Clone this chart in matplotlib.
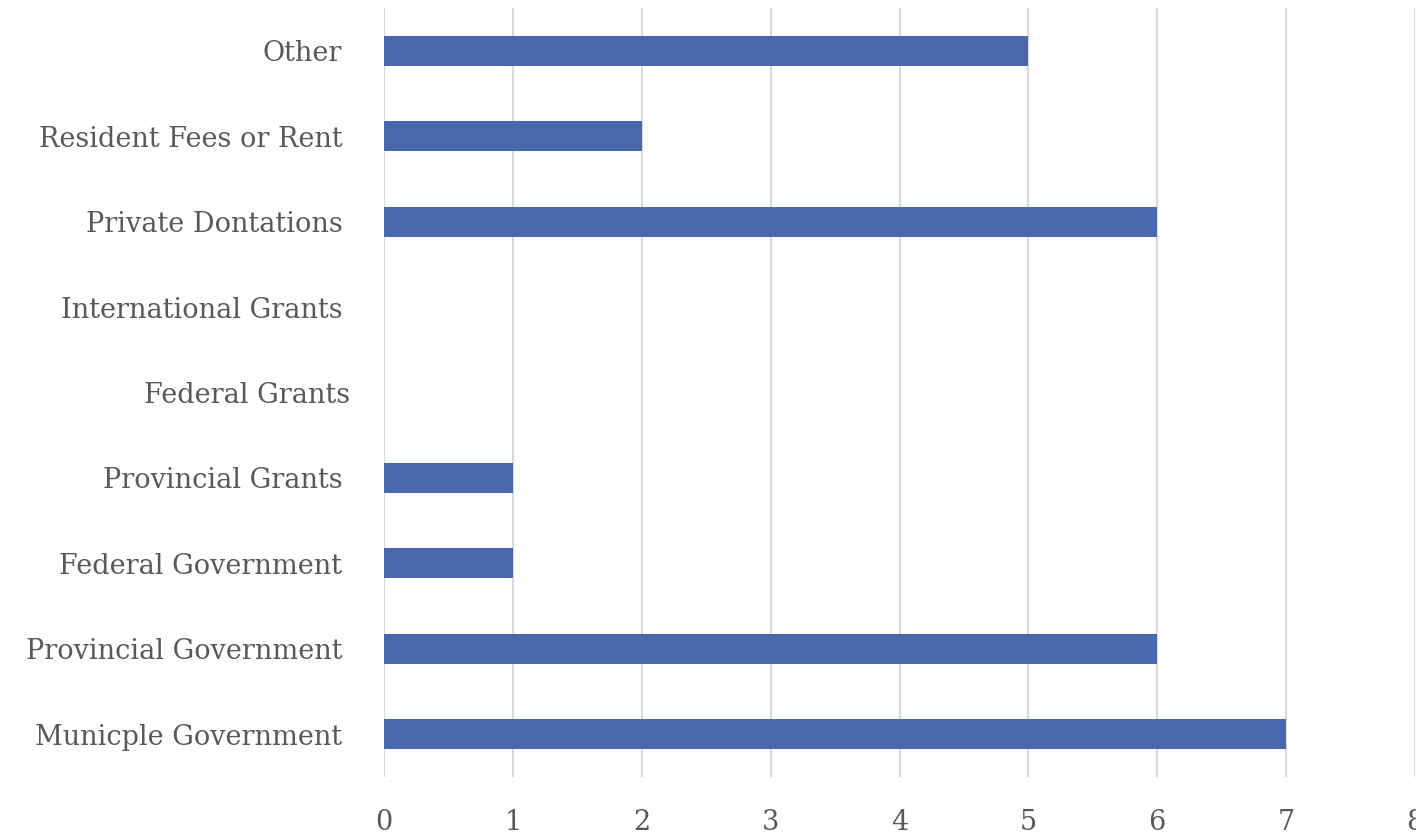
import matplotlib.pyplot as plt
import matplotlib.transforms as mtransforms

# Funding sources, bottom to top
categories = ['Municple Government', 'Provincial Government', 'Federal Government',
              'Provincial Grants', 'Federal Grants', 'International Grants',
              'Private Dontations', 'Resident Fees or Rent', 'Other']
counts = [7, 6, 1, 1, 0, 0, 6, 2, 5]
x_ticks = [0, 1, 2, 3, 4, 5, 6, 7, 8]

plt.rcParams['font.family'] = ['DejaVu Serif']

fig = plt.figure(figsize=(14.16, 8.39), dpi=100)
ax = fig.add_axes([0.2712, 0.0739, 0.7281, 0.9166])

ax.barh(range(len(categories)), counts, height=0.35, color='#4A66AC', zorder=3)

ax.set_xlim(0, 8)
ax.set_ylim(-0.5, len(categories) - 0.5)
ax.set_xticks(x_ticks)
ax.set_yticks(range(len(categories)))
ax.set_yticklabels(categories)
ax.grid(axis='x', color='#D9D9D9', linewidth=1.5, zorder=0)
ax.tick_params(axis='both', length=0, labelsize=19.5, colors='#595959')
ax.tick_params(axis='y', pad=30)
ax.tick_params(axis='x', pad=23)
for s in ax.spines.values():
    s.set_visible(False)

# the "Federal Grants" label sits a little further right in the original
lbl = ax.get_yticklabels()[4]
lbl.set_transform(lbl.get_transform() + mtransforms.ScaledTranslation(8 / 100, 0, fig.dpi_scale_trans))

fig.savefig('out.png', dpi=100)
